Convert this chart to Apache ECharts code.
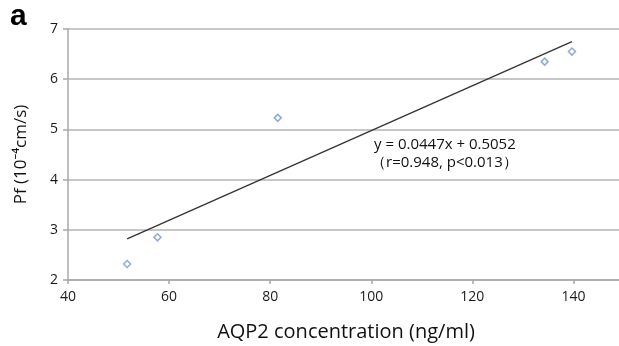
<!DOCTYPE html>
<html><head><meta charset="utf-8">
<script src="https://cdn.jsdelivr.net/npm/echarts@6/dist/echarts.min.js"></script>
<style>html,body{margin:0;padding:0;background:#fff;}#c{width:619px;height:346px;}</style>
</head><body><div id="c"></div>
<script>
const aqp2 = [51.7, 57.7, 81.5, 134.3, 139.7];
const pf = [2.32, 2.85, 5.23, 6.35, 6.55];
const trendX = [51.7, 139.7];
const trendY = [2.82, 6.75];
const eqLine1 = 'y = 0.0447x + 0.5052';
const eqLine2 = '（r=0.948, p<0.013）';
const panelLabel = 'a';
const xTitle = 'AQP2 concentration (ng/ml)';
const yTitle = 'Pf (10⁻⁴cm/s)';

const chart = echarts.init(document.getElementById('c'));
const font = '"Open Sans", "Noto Sans", sans-serif';
chart.setOption({
  animation: false,
  backgroundColor: '#fff',
  grid: {left: 68, top: 29, right: -5, bottom: 66, outerBoundsMode: 'none', containLabel: false},
  xAxis: {
    type: 'value', min: 40, max: 150, interval: 20,
    name: xTitle, nameLocation: 'middle', nameGap: 42,
    nameTextStyle: {fontSize: 20, color: '#111', fontFamily: font},
    axisLine: {show: true, lineStyle: {color: '#a8a8a8', width: 1.5}},
    axisTick: {show: true, length: 4, lineStyle: {color: '#a8a8a8', width: 1.5}},
    axisLabel: {fontSize: 14, color: '#1a1a1a', fontFamily: font, margin: 10, showMaxLabel: false},
    splitLine: {show: false}
  },
  yAxis: {
    type: 'value', min: 2, max: 7, interval: 1,
    name: yTitle, nameLocation: 'middle', nameGap: 38, nameRotate: 90,
    nameTextStyle: {fontSize: 17, color: '#111', fontFamily: font},
    axisLine: {show: true, lineStyle: {color: '#a8a8a8', width: 1.5}},
    axisTick: {show: true, length: 5, lineStyle: {color: '#a8a8a8', width: 1.5}},
    axisLabel: {fontSize: 14, color: '#1a1a1a', fontFamily: font, margin: 10},
    splitLine: {show: true, lineStyle: {color: '#b4b4b4', width: 1.5}}
  },
  series: [
    {
      type: 'line', data: trendX.map((x, i) => [x, trendY[i]]),
      symbol: 'none', lineStyle: {color: '#333', width: 1.3}, z: 2
    },
    {
      type: 'scatter', data: aqp2.map((x, i) => [x, pf[i]]),
      symbol: 'diamond', symbolSize: 7,
      itemStyle: {color: '#fff', borderColor: '#6f96d4', borderWidth: 1.5}, z: 3
    }
  ],
  graphic: [
    {type: 'text', left: 10, top: 2, style: {text: panelLabel, font: 'bold 30px "Liberation Sans", Arial, sans-serif', fill: '#000'}},
    {type: 'text', left: 374, top: 137, style: {text: eqLine1, font: '15px ' + font, fill: '#111'}},
    {type: 'text', left: 371, top: 155, style: {text: eqLine2, font: '15px ' + font, fill: '#111'}}
  ]
});
</script></body></html>
